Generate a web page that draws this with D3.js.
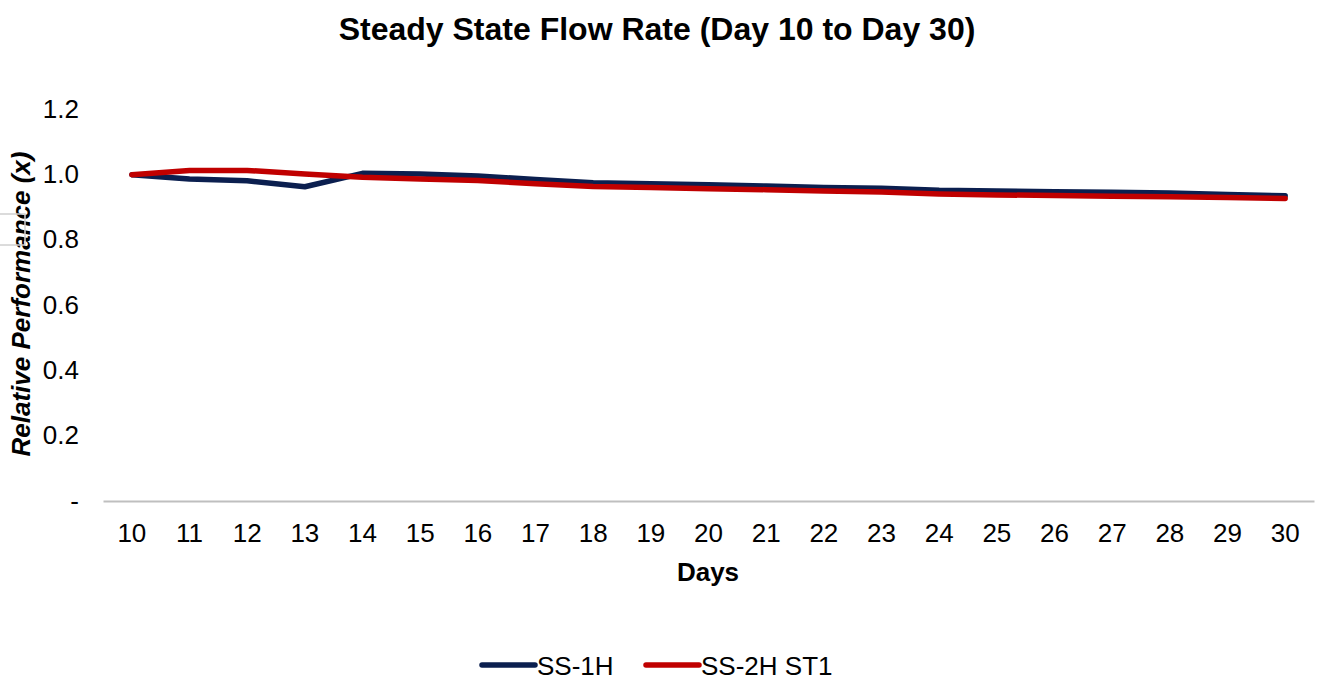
<!DOCTYPE html>
<html>
<head>
<meta charset="utf-8">
<script src="https://cdn.jsdelivr.net/npm/d3@7"></script>
<style>
  body { margin: 0; background: #fff; }
  svg text { font-family: "Liberation Sans", Arial, sans-serif; fill: #000; }
</style>
</head>
<body>
<svg id="chart" width="1322" height="679"></svg>
<script>
// data
var days = [10,11,12,13,14,15,16,17,18,19,20,21,22,23,24,25,26,27,28,29,30];
var ss1h = [0.996, 0.983, 0.977, 0.959, 1.0, 0.998, 0.992, 0.981, 0.971, 0.968, 0.965,
            0.961, 0.957, 0.954, 0.948, 0.946, 0.944, 0.942, 0.940, 0.935, 0.931];
var ss2h = [0.996, 1.009, 1.009, 0.998, 0.988, 0.983, 0.978, 0.968, 0.960, 0.957, 0.953,
            0.950, 0.946, 0.943, 0.937, 0.934, 0.932, 0.930, 0.928, 0.926, 0.923];
var yTicks = [0, 0.2, 0.4, 0.6, 0.8, 1.0, 1.2];
var seriesNames = ["SS-1H", "SS-2H ST1"];
var seriesColors = ["#0b1f4f", "#c00000"];

var svg = d3.select("#chart");

var x = d3.scaleBand().domain(days).range([103, 1314]);
var y = d3.scaleLinear().domain([0, 1.2]).range([500, 108]);

svg.append("text")
    .attr("x", 657).attr("y", 40)
    .attr("text-anchor", "middle")
    .style("font-size", "32px").style("font-weight", "bold")
    .text("Steady State Flow Rate (Day 10 to Day 30)");

// y axis labels (no axis line)
var yAxis = svg.append("g")
    .attr("transform", "translate(79,0)")
    .call(d3.axisLeft(y).tickValues(yTicks).tickSize(0).tickPadding(0)
        .tickFormat(function(d){ return d === 0 ? "-" : d3.format(".1f")(d); }));
yAxis.select(".domain").remove();
yAxis.selectAll("text").style("font-size", "26px").attr("dy", "0.35em")
    .style("font-family", "Liberation Sans, Arial, sans-serif");

// x axis
var xAxis = svg.append("g")
    .attr("transform", "translate(0,501)")
    .call(d3.axisBottom(x).tickSize(0).tickPadding(23));
xAxis.select(".domain").attr("stroke", "#bfbfbf").attr("stroke-width", 2);
xAxis.selectAll("text").style("font-size", "26px")
    .style("font-family", "Liberation Sans, Arial, sans-serif");

svg.append("text")
    .attr("x", 708).attr("y", 581)
    .attr("text-anchor", "middle")
    .style("font-size", "26px").style("font-weight", "bold")
    .text("Days");

svg.append("text")
    .attr("transform", "translate(30,304) rotate(-90)")
    .attr("text-anchor", "middle")
    .style("font-size", "26px").style("font-weight", "bold").style("font-style", "italic")
    .text("Relative Performance (x)");

// stray grey outline at the left edge
svg.append("rect")
    .attr("x", -2).attr("y", 214).attr("width", 27).attr("height", 31)
    .attr("fill", "none").attr("stroke", "#d0d0d0").attr("stroke-width", 1.5);

var line = d3.line()
    .x(function(d, i){ return x(days[i]) + x.bandwidth() / 2; })
    .y(function(d){ return y(d); });

[ss1h, ss2h].forEach(function(s, k) {
    svg.append("path")
        .datum(s)
        .attr("d", line)
        .attr("fill", "none")
        .attr("stroke", seriesColors[k])
        .attr("stroke-width", 5.5)
        .attr("stroke-linejoin", "round")
        .attr("stroke-linecap", "round");
});

// legend
var legX = [482, 646];
seriesNames.forEach(function(n, k) {
    var g = svg.append("g").attr("transform", "translate(" + legX[k] + ",665)");
    g.append("line").attr("x1", 0).attr("x2", 53).attr("y1", 0).attr("y2", 0)
        .attr("stroke", seriesColors[k]).attr("stroke-width", 5.5).attr("stroke-linecap", "round");
    g.append("text").attr("x", 55).attr("y", 9.5)
        .style("font-size", "26px").text(n);
});
</script>
</body>
</html>
